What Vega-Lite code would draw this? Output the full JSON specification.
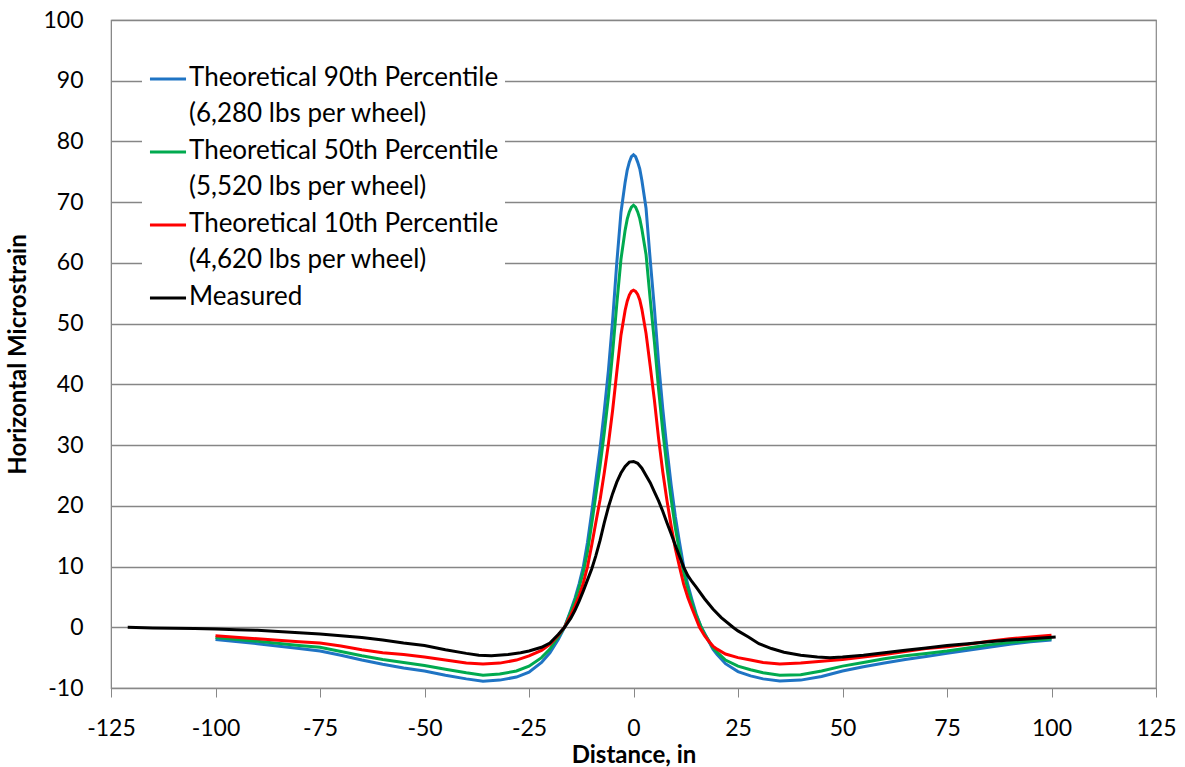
{
  "$schema": "https://vega.github.io/schema/vega-lite/v6.json",
  "width": 1045,
  "height": 668,
  "autosize": "none",
  "padding": {"left": 111, "top": 20, "right": 29, "bottom": 79},
  "background": "white",
  "config": {
    "font": "Lato",
    "view": {"stroke": "#888888", "strokeWidth": 1.2},
    "axis": {
      "labelFont": "Lato",
      "labelFontSize": 23,
      "labelColor": "#000000",
      "titleFont": "Lato",
      "titleFontSize": 24,
      "titleFontWeight": "bold",
      "titleColor": "#000000",
      "domainColor": "#888888",
      "tickColor": "#888888"
    },
    "legend": {
      "labelFont": "Lato",
      "labelFontSize": 26,
      "labelColor": "#000000"
    }
  },
  "datasets": {
    "p90": [
      {"distance": -100, "strain": -2.0}, {"distance": -90, "strain": -2.7}, {"distance": -80, "strain": -3.5},
      {"distance": -75, "strain": -3.9}, {"distance": -70, "strain": -4.6}, {"distance": -65, "strain": -5.4},
      {"distance": -60, "strain": -6.1}, {"distance": -55, "strain": -6.7}, {"distance": -50, "strain": -7.2},
      {"distance": -45, "strain": -7.9}, {"distance": -40, "strain": -8.5}, {"distance": -36, "strain": -8.9},
      {"distance": -32, "strain": -8.7}, {"distance": -28, "strain": -8.2}, {"distance": -25, "strain": -7.4},
      {"distance": -22, "strain": -5.8}, {"distance": -20, "strain": -4.2}, {"distance": -18, "strain": -2.0},
      {"distance": -16.5, "strain": 0}, {"distance": -15, "strain": 2.8}, {"distance": -14, "strain": 4.8},
      {"distance": -13, "strain": 7.2}, {"distance": -12, "strain": 10.0}, {"distance": -11, "strain": 14.0},
      {"distance": -10, "strain": 18.9}, {"distance": -9, "strain": 24.2}, {"distance": -8, "strain": 29.5},
      {"distance": -7, "strain": 35.6}, {"distance": -6, "strain": 42.3}, {"distance": -5, "strain": 50.5},
      {"distance": -4, "strain": 60.0}, {"distance": -3, "strain": 68.3}, {"distance": -2, "strain": 73.3},
      {"distance": -1.5, "strain": 75.3}, {"distance": -1, "strain": 76.6}, {"distance": -0.5, "strain": 77.5},
      {"distance": 0, "strain": 77.8}, {"distance": 0.5, "strain": 77.5}, {"distance": 1, "strain": 76.6},
      {"distance": 1.5, "strain": 75.5}, {"distance": 2, "strain": 73.6}, {"distance": 3, "strain": 69.0},
      {"distance": 4, "strain": 60.5},
      {"distance": 5, "strain": 52.5}, {"distance": 6, "strain": 43.6}, {"distance": 7, "strain": 36.0},
      {"distance": 8, "strain": 29.4}, {"distance": 9, "strain": 23.5}, {"distance": 10, "strain": 18.3},
      {"distance": 11, "strain": 14.0}, {"distance": 12, "strain": 10.0}, {"distance": 13, "strain": 7.0},
      {"distance": 14, "strain": 4.5}, {"distance": 15, "strain": 2.2}, {"distance": 16.2, "strain": 0},
      {"distance": 17, "strain": -1.0}, {"distance": 18, "strain": -2.3}, {"distance": 19, "strain": -3.6},
      {"distance": 20, "strain": -4.5}, {"distance": 22, "strain": -6.0}, {"distance": 25, "strain": -7.3},
      {"distance": 28, "strain": -8.0}, {"distance": 31, "strain": -8.5}, {"distance": 35, "strain": -8.85},
      {"distance": 40, "strain": -8.7}, {"distance": 45, "strain": -8.1}, {"distance": 50, "strain": -7.2},
      {"distance": 55, "strain": -6.5}, {"distance": 60, "strain": -5.9}, {"distance": 65, "strain": -5.3},
      {"distance": 70, "strain": -4.8}, {"distance": 75, "strain": -4.3}, {"distance": 80, "strain": -3.8},
      {"distance": 85, "strain": -3.3}, {"distance": 90, "strain": -2.8}, {"distance": 95, "strain": -2.4},
      {"distance": 100, "strain": -2.1}
    ],
    "p50": [
      {"distance": -100, "strain": -1.7}, {"distance": -90, "strain": -2.3}, {"distance": -80, "strain": -3.0},
      {"distance": -75, "strain": -3.3}, {"distance": -70, "strain": -4.0}, {"distance": -65, "strain": -4.7},
      {"distance": -60, "strain": -5.3}, {"distance": -55, "strain": -5.8}, {"distance": -50, "strain": -6.3},
      {"distance": -45, "strain": -6.9}, {"distance": -40, "strain": -7.5}, {"distance": -36, "strain": -7.9},
      {"distance": -32, "strain": -7.7}, {"distance": -28, "strain": -7.2}, {"distance": -25, "strain": -6.4},
      {"distance": -22, "strain": -5.0}, {"distance": -20, "strain": -3.6}, {"distance": -18, "strain": -1.6},
      {"distance": -16.5, "strain": 0}, {"distance": -15, "strain": 2.6}, {"distance": -14, "strain": 4.4},
      {"distance": -13, "strain": 6.6}, {"distance": -12, "strain": 9.1}, {"distance": -11, "strain": 12.5},
      {"distance": -10, "strain": 17.0}, {"distance": -9, "strain": 21.8}, {"distance": -8, "strain": 26.6},
      {"distance": -7, "strain": 32.0}, {"distance": -6, "strain": 38.0}, {"distance": -5, "strain": 45.2},
      {"distance": -4, "strain": 53.2}, {"distance": -3, "strain": 60.6}, {"distance": -2, "strain": 65.4},
      {"distance": -1.5, "strain": 67.2}, {"distance": -1, "strain": 68.4}, {"distance": -0.5, "strain": 69.2},
      {"distance": 0, "strain": 69.5}, {"distance": 0.5, "strain": 69.2}, {"distance": 1, "strain": 68.4},
      {"distance": 1.5, "strain": 67.3}, {"distance": 2, "strain": 65.6}, {"distance": 3, "strain": 61.4},
      {"distance": 4, "strain": 54.0},
      {"distance": 5, "strain": 47.0}, {"distance": 6, "strain": 39.2}, {"distance": 7, "strain": 32.3},
      {"distance": 8, "strain": 26.4}, {"distance": 9, "strain": 21.1}, {"distance": 10, "strain": 16.4},
      {"distance": 11, "strain": 12.5}, {"distance": 12, "strain": 9.0}, {"distance": 13, "strain": 6.3},
      {"distance": 14, "strain": 4.0}, {"distance": 15, "strain": 2.0}, {"distance": 16.2, "strain": 0},
      {"distance": 17, "strain": -1.1}, {"distance": 18, "strain": -2.2}, {"distance": 19, "strain": -3.4},
      {"distance": 20, "strain": -4.1}, {"distance": 22, "strain": -5.4}, {"distance": 25, "strain": -6.4},
      {"distance": 28, "strain": -7.0}, {"distance": 31, "strain": -7.5}, {"distance": 35, "strain": -7.9},
      {"distance": 40, "strain": -7.8}, {"distance": 45, "strain": -7.2}, {"distance": 50, "strain": -6.4},
      {"distance": 55, "strain": -5.8}, {"distance": 60, "strain": -5.2}, {"distance": 65, "strain": -4.7},
      {"distance": 70, "strain": -4.3}, {"distance": 75, "strain": -3.9}, {"distance": 80, "strain": -3.4},
      {"distance": 85, "strain": -2.9}, {"distance": 90, "strain": -2.5}, {"distance": 95, "strain": -2.2},
      {"distance": 100, "strain": -1.9}
    ],
    "p10": [
      {"distance": -100, "strain": -1.4}, {"distance": -90, "strain": -1.9}, {"distance": -80, "strain": -2.4},
      {"distance": -75, "strain": -2.6}, {"distance": -70, "strain": -3.1}, {"distance": -65, "strain": -3.7},
      {"distance": -60, "strain": -4.2}, {"distance": -55, "strain": -4.5}, {"distance": -50, "strain": -4.9},
      {"distance": -45, "strain": -5.4}, {"distance": -40, "strain": -5.9}, {"distance": -36, "strain": -6.05},
      {"distance": -32, "strain": -5.9}, {"distance": -28, "strain": -5.4}, {"distance": -25, "strain": -4.7},
      {"distance": -22, "strain": -3.8}, {"distance": -20, "strain": -2.8}, {"distance": -18, "strain": -1.3},
      {"distance": -16.5, "strain": 0}, {"distance": -15, "strain": 2.0}, {"distance": -14, "strain": 3.5},
      {"distance": -13, "strain": 5.2}, {"distance": -12, "strain": 7.3}, {"distance": -11, "strain": 10.0},
      {"distance": -10, "strain": 13.5}, {"distance": -9, "strain": 17.3}, {"distance": -8, "strain": 21.0},
      {"distance": -7, "strain": 25.4}, {"distance": -6, "strain": 30.2}, {"distance": -5, "strain": 35.7},
      {"distance": -4, "strain": 42.0}, {"distance": -3, "strain": 48.1}, {"distance": -2, "strain": 52.2},
      {"distance": -1.5, "strain": 53.7}, {"distance": -1, "strain": 54.7}, {"distance": -0.5, "strain": 55.3},
      {"distance": 0, "strain": 55.5}, {"distance": 0.5, "strain": 55.3}, {"distance": 1, "strain": 54.8},
      {"distance": 1.5, "strain": 53.9}, {"distance": 2, "strain": 52.4}, {"distance": 3, "strain": 48.4},
      {"distance": 4, "strain": 43.0},
      {"distance": 5, "strain": 37.4}, {"distance": 6, "strain": 31.1}, {"distance": 7, "strain": 25.6},
      {"distance": 8, "strain": 20.9}, {"distance": 9, "strain": 16.7}, {"distance": 10, "strain": 13.0},
      {"distance": 11, "strain": 10.0}, {"distance": 12, "strain": 7.1}, {"distance": 13, "strain": 4.9},
      {"distance": 14, "strain": 3.1}, {"distance": 15.8, "strain": 0}, {"distance": 17, "strain": -1.4},
      {"distance": 18, "strain": -2.3}, {"distance": 19, "strain": -3.1}, {"distance": 20, "strain": -3.6},
      {"distance": 22, "strain": -4.4}, {"distance": 25, "strain": -5.0}, {"distance": 28, "strain": -5.4},
      {"distance": 31, "strain": -5.8}, {"distance": 35, "strain": -6.05}, {"distance": 40, "strain": -5.9},
      {"distance": 45, "strain": -5.6}, {"distance": 50, "strain": -5.3}, {"distance": 55, "strain": -4.9},
      {"distance": 60, "strain": -4.5}, {"distance": 65, "strain": -4.0}, {"distance": 70, "strain": -3.5},
      {"distance": 75, "strain": -3.2}, {"distance": 80, "strain": -2.8}, {"distance": 85, "strain": -2.3},
      {"distance": 90, "strain": -1.9}, {"distance": 95, "strain": -1.6}, {"distance": 100, "strain": -1.3}
    ],
    "measured": [
      {"distance": -121, "strain": 0.0}, {"distance": -115, "strain": -0.1}, {"distance": -110, "strain": -0.15},
      {"distance": -105, "strain": -0.2}, {"distance": -100, "strain": -0.3}, {"distance": -95, "strain": -0.4},
      {"distance": -90, "strain": -0.5}, {"distance": -85, "strain": -0.7}, {"distance": -80, "strain": -0.9},
      {"distance": -75, "strain": -1.1}, {"distance": -70, "strain": -1.4}, {"distance": -65, "strain": -1.7},
      {"distance": -60, "strain": -2.1}, {"distance": -55, "strain": -2.6}, {"distance": -50, "strain": -3.0},
      {"distance": -45, "strain": -3.7}, {"distance": -40, "strain": -4.3}, {"distance": -37, "strain": -4.6},
      {"distance": -34, "strain": -4.7}, {"distance": -30, "strain": -4.5}, {"distance": -27, "strain": -4.2},
      {"distance": -25, "strain": -3.9}, {"distance": -22, "strain": -3.3}, {"distance": -20, "strain": -2.6},
      {"distance": -18, "strain": -1.2}, {"distance": -16.5, "strain": 0}, {"distance": -15, "strain": 1.5},
      {"distance": -14, "strain": 2.8}, {"distance": -13, "strain": 4.3}, {"distance": -12, "strain": 6.0},
      {"distance": -11, "strain": 7.8}, {"distance": -10, "strain": 9.6}, {"distance": -9, "strain": 11.8},
      {"distance": -8, "strain": 14.3}, {"distance": -7, "strain": 17.2}, {"distance": -6, "strain": 19.8},
      {"distance": -5, "strain": 22.0}, {"distance": -4, "strain": 23.9}, {"distance": -3, "strain": 25.4},
      {"distance": -2, "strain": 26.5}, {"distance": -1, "strain": 27.2}, {"distance": 0, "strain": 27.3},
      {"distance": 1, "strain": 27.0}, {"distance": 2, "strain": 26.2}, {"distance": 3, "strain": 25.0},
      {"distance": 4, "strain": 23.8}, {"distance": 5, "strain": 22.3}, {"distance": 6, "strain": 20.8},
      {"distance": 7, "strain": 19.1}, {"distance": 8, "strain": 17.2}, {"distance": 9, "strain": 15.4},
      {"distance": 10, "strain": 13.5}, {"distance": 11, "strain": 11.7}, {"distance": 12, "strain": 9.9},
      {"distance": 13, "strain": 8.5}, {"distance": 14, "strain": 7.5}, {"distance": 15, "strain": 6.6},
      {"distance": 17, "strain": 4.7}, {"distance": 19, "strain": 3.0}, {"distance": 21, "strain": 1.6},
      {"distance": 23.8, "strain": 0}, {"distance": 25, "strain": -0.6}, {"distance": 27.5, "strain": -1.6},
      {"distance": 30, "strain": -2.7}, {"distance": 33, "strain": -3.5}, {"distance": 36, "strain": -4.1},
      {"distance": 40, "strain": -4.6}, {"distance": 44, "strain": -4.9}, {"distance": 47, "strain": -5.0},
      {"distance": 50, "strain": -4.9}, {"distance": 55, "strain": -4.6}, {"distance": 60, "strain": -4.2},
      {"distance": 65, "strain": -3.8}, {"distance": 70, "strain": -3.4}, {"distance": 75, "strain": -3.0},
      {"distance": 80, "strain": -2.7}, {"distance": 85, "strain": -2.4}, {"distance": 90, "strain": -2.1},
      {"distance": 95, "strain": -1.9}, {"distance": 101, "strain": -1.6}
    ]
  },
  "encoding": {
    "x": {
      "field": "distance",
      "type": "quantitative",
      "scale": {"domain": [-125, 125], "nice": false, "zero": false},
      "axis": {
        "title": "Distance, in",
        "values": [-125, -100, -75, -50, -25, 0, 25, 50, 75, 100, 125],
        "labelExpr": "replace(datum.label, '\u2212', '-')",
        "grid": false,
        "ticks": true,
        "tickSize": 9,
        "labelPadding": 20,
        "labelFlush": false,
        "titleBaseline": "middle",
        "titleY": 67
      }
    },
    "y": {
      "field": "strain",
      "type": "quantitative",
      "scale": {"domain": [-10, 100], "nice": false, "zero": false},
      "axis": {
        "title": "Horizontal Microstrain",
        "values": [-10, 0, 10, 20, 30, 40, 50, 60, 70, 80, 90, 100],
        "labelExpr": "replace(datum.label, '\u2212', '-')",
        "grid": true,
        "gridColor": "#868686",
        "gridWidth": 1.3,
        "ticks": false,
        "labelPadding": 28,
        "labelFlush": false,
        "titleBaseline": "middle",
        "titleX": -93
      }
    }
  },
  "layer": [
    {
      "data": {"name": "p90"},
      "mark": {"type": "line", "strokeWidth": 3},
      "encoding": {
        "color": {
          "datum": "Theoretical 90th Percentile (6,280 lbs per wheel)",
          "type": "nominal",
          "scale": {
            "domain": [
              "Theoretical 90th Percentile (6,280 lbs per wheel)",
              "Theoretical 50th Percentile (5,520 lbs per wheel)",
              "Theoretical 10th Percentile (4,620 lbs per wheel)",
              "Measured"
            ],
            "range": ["#1F74C4", "#00AA4F", "#FF0000", "#000000"]
          },
          "legend": {
            "title": null,
            "orient": "none",
            "legendX": 31,
            "legendY": 33,
            "fillColor": "white",
            "padding": 6,
            "symbolType": "stroke",
            "symbolSize": 1300,
            "symbolStrokeWidth": 3,
            "labelOffset": 1,
            "labelLimit": 0,
            "labelBaseline": "top",
            "rowPadding": 5,
            "labelExpr": "indexof(datum.label, ' (') > 0 ? [slice(datum.label, 0, indexof(datum.label, ' (')), slice(datum.label, indexof(datum.label, ' (') + 1)] : datum.label",
            "encode": {
              "labels": {"update": {"lineHeight": {"value": 36}, "dy": {"value": -14}}}
            }
          }
        }
      }
    },
    {
      "data": {"name": "p50"},
      "mark": {"type": "line", "strokeWidth": 3},
      "encoding": {"color": {"datum": "Theoretical 50th Percentile (5,520 lbs per wheel)", "type": "nominal"}}
    },
    {
      "data": {"name": "p10"},
      "mark": {"type": "line", "strokeWidth": 3},
      "encoding": {"color": {"datum": "Theoretical 10th Percentile (4,620 lbs per wheel)", "type": "nominal"}}
    },
    {
      "data": {"name": "measured"},
      "mark": {"type": "line", "strokeWidth": 3},
      "encoding": {"color": {"datum": "Measured", "type": "nominal"}}
    }
  ]
}
